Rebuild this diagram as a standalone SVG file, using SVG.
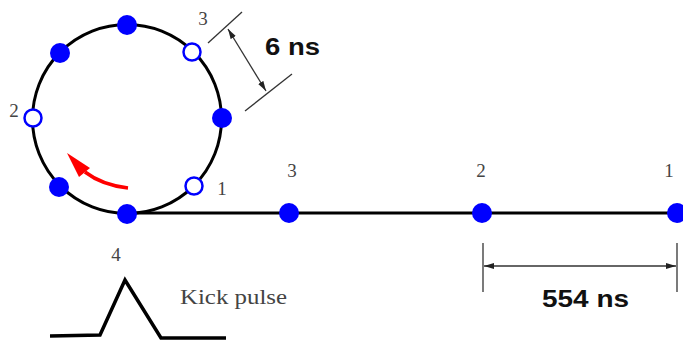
<svg xmlns="http://www.w3.org/2000/svg" width="683" height="347" viewBox="0 0 683 347">
<style>
.ring{fill:none;stroke:#000;stroke-width:3}
.full{fill:#0000ff}
.open{fill:#fff;stroke:#0000ff;stroke-width:2.5}
.lbl{font-family:"Liberation Serif",serif;font-size:19px;fill:#444;text-anchor:middle}
.dim{stroke:#333;stroke-width:1.3;fill:none}
.big{font-family:"Liberation Sans",Arial,sans-serif;font-weight:bold;font-size:24px;fill:#111}
.thick{stroke:#000;stroke-width:3.5;fill:none;stroke-linejoin:miter}
</style>
<defs>
<marker id="ah" viewBox="0 0 10 6" refX="10" refY="3" markerWidth="10" markerHeight="6" markerUnits="userSpaceOnUse" orient="auto-start-reverse">
<path d="M0,0 L10,3 L0,6 z" fill="#222"/>
</marker>
</defs>
<g id="connectors">
<circle class="ring" cx="127" cy="119" r="94.5"/>
<line x1="127" y1="213" x2="683" y2="213" stroke="#000" stroke-width="3"/>
<path d="M128,188 Q102,185 85,172" fill="none" stroke="#ff0000" stroke-width="3.5"/>
<polygon points="67,153 90,168 79,177" fill="#ff0000"/>
</g>
<g id="ring-nodes">
<circle id="r-top" class="full" cx="127" cy="25" r="10"/>
<circle id="r-tl" class="full" cx="60" cy="53" r="10"/>
<circle id="r-tr" class="open" cx="192" cy="52" r="8.5"/>
<circle id="r-left" class="open" cx="33" cy="118" r="8.5"/>
<circle id="r-right" class="full" cx="222" cy="118" r="10"/>
<circle id="r-bl" class="full" cx="59" cy="187" r="10"/>
<circle id="r-br" class="open" cx="194" cy="186" r="8.5"/>
<circle id="r-bottom" class="full" cx="127" cy="214" r="10"/>
</g>
<g id="line-nodes">
<circle id="l3" class="full" cx="289" cy="213" r="10"/>
<circle id="l2" class="full" cx="482" cy="213" r="10"/>
<circle id="l1" class="full" cx="677" cy="213" r="10"/>
</g>
<g id="labels">
<text class="lbl" x="203" y="25">3</text>
<text class="lbl" x="14" y="117">2</text>
<text class="lbl" x="222" y="195">1</text>
<text class="lbl" x="292" y="177">3</text>
<text class="lbl" x="481" y="177">2</text>
<text class="lbl" x="669" y="177">1</text>
<text class="lbl" x="116" y="261">4</text>
</g>
<g id="dim-6ns">
<line class="dim" x1="208" y1="43" x2="242" y2="12"/>
<line class="dim" x1="245" y1="111" x2="292" y2="74"/>
<line class="dim" x1="228" y1="29" x2="266" y2="91" marker-start="url(#ah)" marker-end="url(#ah)"/>
<text class="big" x="265" y="55" textLength="55" lengthAdjust="spacingAndGlyphs">6 ns</text>
</g>
<g id="dim-554ns">
<line class="dim" x1="483" y1="243" x2="483" y2="292"/>
<line class="dim" x1="677" y1="243" x2="677" y2="292"/>
<line class="dim" x1="484" y1="266" x2="676" y2="266" marker-start="url(#ah)" marker-end="url(#ah)"/>
<text class="big" x="542" y="307" textLength="87" lengthAdjust="spacingAndGlyphs">554 ns</text>
</g>
<g id="kick-pulse">
<polyline class="thick" points="50,336 100,335 125,280 161,338 226,338"/>
<text x="180" y="304" font-family="'Liberation Serif',serif" font-size="21" fill="#444" textLength="107" lengthAdjust="spacingAndGlyphs">Kick pulse</text>
</g>
</svg>
